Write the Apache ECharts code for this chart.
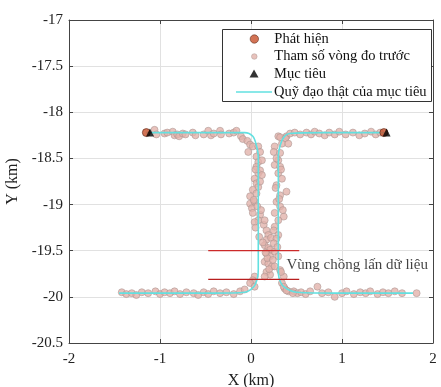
<!DOCTYPE html>
<html>
<head>
<meta charset="utf-8">
<script src="https://cdn.jsdelivr.net/npm/echarts@6/dist/echarts.min.js"></script>
<style>html,body{margin:0;padding:0;background:#fff;}#c{width:441px;height:387px;}</style>
</head>
<body>
<div id="c"></div>
<script>
// ---- Data (km) ----
const xTicks = [-2, -1, 0, 1, 2];
const yTicks = [-20.5, -20, -19.5, -19, -18.5, -18, -17.5, -17];

// True trajectory, target 1 (starts top-left)
const track1X = [-1.15, -0.40, -0.07, 0.02, 0.06, 0.08, 0.08, 0.08, 0.07, 0.03, -0.07, -0.40, -1.45];
const track1Y = [-18.22, -18.22, -18.22, -18.26, -18.36, -18.48, -19.10, -19.70, -19.80, -19.89, -19.95, -19.96, -19.96];
// True trajectory, target 2 (starts top-right)
const track2X = [1.47, 0.80, 0.42, 0.36, 0.32, 0.30, 0.30, 0.30, 0.31, 0.36, 0.50, 1.00, 1.78];
const track2Y = [-18.22, -18.22, -18.23, -18.27, -18.36, -18.48, -19.10, -19.70, -19.80, -19.89, -19.95, -19.96, -19.96];

// Detections (Phát hiện)
const detX = [-1.15, 1.46];
const detY = [-18.22, -18.22];

// Targets (Mục tiêu)
const tgtX = [-1.11, 1.49];
const tgtY = [-18.22, -18.22];

// Previous-scan measured parameters (Tham số vòng đo trước)
const measX = [
  -1.06, -1.04, -0.95, -0.92, -0.86, -0.84, -0.81, -0.79, -0.75, -0.72, -0.64, -0.61, -0.52, -0.47, -0.44, -0.41, -0.34, -0.33, -0.24, -0.19, -0.16, -0.11, -0.09, -0.04,
  -0.03, -0.01, 0.02, 0.08, 0.10, 0.06, 0.08, 0.12, 0.06, 0.08, 0.10, 0.12, 0.04, 0.06, 0.08, 0.02, 0.06, -0.01, -0.01, 0.04, 0.01, 0.02, 0.10, 0.08, 0.04, 0.14, 0.15, 0.17, 0.19, 0.17, 0.15, 0.19, 0.21, 0.17, 0.21, 0.15, 0.19, 0.23, 0.17, 0.21, 0.15, 0.04, 0.02, -0.01, 0.04,
  0.05, 0.10, 0.03, 0.07, 0.11, 0.05, 0.09, 0.13, 0.18, 0.20, 0.16, 0.22,
  0.30, 0.39, 0.34, 0.26, 0.25, 0.32, 0.30, 0.26, 0.32, 0.30, 0.34, 0.28, 0.39, 0.32, 0.28, 0.32, 0.26, 0.36, 0.30, 0.26, 0.25, 0.30, 0.28, 0.25, 0.26, 0.30, 0.26, 0.32, 0.36, 0.34, 0.37, 0.41, 0.47, 0.51,
  0.28, 0.33, 0.27, 0.31, 0.35, 0.29, 0.24, 0.33,
  0.32, 0.38, 0.41, 0.43, 0.48, 0.54, 0.61, 0.66, 0.70, 0.75, 0.81, 0.86, 0.92, 0.97, 1.04, 1.12, 1.19, 1.25, 1.32, 1.37, 1.42,
  -1.42, -1.37, -1.31, -1.26, -1.20, -1.13, -1.05, -1.00, -0.95, -0.89, -0.84, -0.78, -0.71, -0.63, -0.58, -0.52, -0.47, -0.41, -0.34, -0.27, -0.19, -0.12, -0.07,
  0.36, 0.39, 0.46, 0.55, 0.60, 0.65, 0.73, 0.78, 0.85, 0.92, 1.00, 1.05, 1.13, 1.20, 1.26, 1.31, 1.39, 1.45, 1.51, 1.58, 1.66, 1.82
];
const measY = [
  -18.19, -18.24, -18.23, -18.22, -18.21, -18.25, -18.24, -18.26, -18.23, -18.24, -18.22, -18.25, -18.24, -18.20, -18.25, -18.23, -18.20, -18.24, -18.23, -18.22, -18.20, -18.26, -18.29, -18.31,
  -18.43, -18.35, -18.37, -18.37, -18.43, -18.48, -18.54, -18.52, -18.59, -18.66, -18.63, -18.68, -18.72, -18.77, -18.81, -18.84, -18.88, -18.91, -18.99, -18.97, -19.04, -19.09, -19.11, -19.17, -19.19, -19.22, -19.17, -19.28, -19.33, -19.38, -19.44, -19.47, -19.49, -19.53, -19.56, -19.62, -19.64, -19.67, -19.73, -19.76, -19.78, -19.78, -19.82, -19.85, -19.89,
  -18.62, -18.75, -18.95, -19.02, -19.06, -19.25, -19.35, -19.41, -19.58, -19.70, -19.52, -19.36,
  -18.26, -18.26, -18.34, -18.37, -18.43, -18.44, -18.52, -18.57, -18.59, -18.66, -18.72, -18.79, -18.86, -18.90, -18.97, -19.02, -19.09, -19.13, -19.17, -19.24, -19.28, -19.33, -19.37, -19.42, -19.51, -19.56, -19.67, -19.71, -19.78, -19.85, -19.91, -19.94, -19.94, -19.96,
  -18.50, -18.62, -18.82, -18.94, -19.06, -19.46, -19.60, -19.73,
  -18.27, -18.28, -18.34, -18.23, -18.22, -18.24, -18.22, -18.24, -18.21, -18.23, -18.25, -18.22, -18.24, -18.21, -18.24, -18.22, -18.25, -18.23, -18.21, -18.24, -18.22,
  -19.95, -19.97, -19.96, -19.98, -19.95, -19.96, -19.94, -19.97, -19.95, -19.96, -19.94, -19.97, -19.95, -19.96, -19.98, -19.95, -19.97, -19.94, -19.96, -19.95, -19.97, -19.94, -19.92,
  -19.89, -19.93, -19.96, -19.95, -19.97, -19.94, -19.89, -19.96, -19.95, -20.00, -19.96, -19.94, -19.97, -19.95, -19.96, -19.94, -19.97, -19.95, -19.96, -19.94, -19.96, -19.96
];

// Overlap region boundaries
const overlapX = [-0.47, 0.53];
const overlapY1 = -19.50;
const overlapY2 = -19.81;
const overlapLabel = 'Vùng chồng lấn dữ liệu';
const overlapLabelPos = [0.39, -19.66];

const legendNames = ['Phát hiện', 'Tham số vòng đo trước', 'Mục tiêu', 'Quỹ đạo thật của mục tiêu'];

// ---- Build ----
const zip = (xs, ys) => xs.map((x, i) => [x, ys[i]]);
const FONT = 'Liberation Serif';
const chart = echarts.init(document.getElementById('c'), null, {renderer: 'canvas'});

const COL_MEAS = '#e2b3ab', COL_MEAS_EDGE = '#a8948f';
const COL_DET = '#c8502a', COL_DET_EDGE = '#5a2a1a';
const COL_TRACK = '#62e0e0';

// legend icons: 36x14 box, shape centred at (18,7); corner moves keep the box size
const BOX = 'M0 0 M36 14 ';
const circ = r => `M${18 - r} 7 A${r} ${r} 0 1 0 ${18 + r} 7 A${r} ${r} 0 1 0 ${18 - r} 7 Z`;
const icons = [
  'path://' + BOX + circ(4.2),
  'path://' + BOX + circ(2.8),
  'path://' + BOX + 'M18 2.5 L22.5 10.5 L13.5 10.5 Z',
  'path://' + BOX + 'M0 6.2 L36 6.2 L36 7.8 L0 7.8 Z'
];
const legendStyles = [
  {color: COL_DET, borderColor: COL_DET_EDGE, borderWidth: 0.7},
  {color: COL_MEAS, borderColor: COL_MEAS_EDGE, borderWidth: 0.6},
  {color: '#000', borderWidth: 0},
  {color: COL_TRACK, borderWidth: 0}
];
const rowCenters = [40, 57.5, 75, 93];
const legends = legendNames.map((n, i) => ({
  data: [{name: n, icon: icons[i]}],
  orient: 'vertical',
  left: 236,
  top: rowCenters[i] - 8.5,
  padding: 0,
  itemWidth: 36,
  itemHeight: 14,
  itemGap: 0,
  selectedMode: false,
  itemStyle: legendStyles[i],
  lineStyle: {width: 0},
  textStyle: {fontFamily: FONT, fontSize: 14.5, color: '#111', padding: [0, 0, 0, -3]},
  z: 10
}));

const axisCommon = {
  type: 'value',
  axisLine: {show: true, onZero: false, lineStyle: {color: '#444', width: 1}},
  axisTick: {show: true, inside: true, length: 4, lineStyle: {color: '#444'}},
  splitLine: {show: true, lineStyle: {color: '#e1e1e1', width: 1}},
};

const option = {
  animation: false,
  backgroundColor: '#fff',
  grid: {left: 69, right: 8, top: 20, bottom: 44, containLabel: false, outerBoundsMode: 'none'},
  xAxis: [
    Object.assign({}, axisCommon, {
      min: xTicks[0], max: xTicks[xTicks.length - 1], interval: 1,
      name: 'X (km)', nameLocation: 'middle', nameGap: 30,
      nameTextStyle: {fontFamily: FONT, fontSize: 16, color: '#222'},
      axisLabel: {fontFamily: FONT, fontSize: 15, color: '#222', margin: 9}
    }),
    Object.assign({}, axisCommon, {
      position: 'top', min: xTicks[0], max: xTicks[xTicks.length - 1], interval: 1,
      axisLabel: {show: false}, splitLine: {show: false}
    })
  ],
  yAxis: [
    Object.assign({}, axisCommon, {
      min: yTicks[0], max: yTicks[yTicks.length - 1], interval: 0.5,
      name: 'Y (km)', nameLocation: 'middle', nameGap: 42,
      nameTextStyle: {fontFamily: FONT, fontSize: 16, color: '#222'},
      axisLabel: {fontFamily: FONT, fontSize: 15, color: '#222', margin: 6}
    }),
    Object.assign({}, axisCommon, {
      position: 'right', min: yTicks[0], max: yTicks[yTicks.length - 1], interval: 0.5,
      axisLabel: {show: false}, splitLine: {show: false}
    })
  ],
  legend: legends,
  graphic: [{
    type: 'rect', left: 222, top: 29, z: 5,
    shape: {width: 209, height: 72},
    style: {fill: '#fff', stroke: '#333', lineWidth: 1}
  }],
  series: [
    {
      name: legendNames[1], type: 'scatter', data: zip(measX, measY),
      symbol: 'circle', symbolSize: 7,
      itemStyle: {color: COL_MEAS, borderColor: COL_MEAS_EDGE, borderWidth: 0.7},
      z: 2
    },
    {
      name: legendNames[3], type: 'line', data: zip(track1X, track1Y),
      showSymbol: false, symbol: 'none', smooth: 0.3,
      lineStyle: {color: COL_TRACK, width: 1.6}, itemStyle: {color: COL_TRACK},
      z: 3
    },
    {
      name: legendNames[3], type: 'line', data: zip(track2X, track2Y),
      showSymbol: false, symbol: 'none', smooth: 0.3,
      lineStyle: {color: COL_TRACK, width: 1.6}, itemStyle: {color: COL_TRACK},
      z: 3
    },
    {
      name: legendNames[0], type: 'scatter', data: zip(detX, detY),
      symbol: 'circle', symbolSize: 8,
      itemStyle: {color: COL_DET, borderColor: COL_DET_EDGE, borderWidth: 0.8},
      z: 4
    },
    {
      name: legendNames[2], type: 'scatter', data: zip(tgtX, tgtY),
      symbol: 'triangle', symbolSize: 8,
      itemStyle: {color: '#000'},
      z: 5
    },
    {
      name: 'overlap1', type: 'line', data: overlapX.map(x => [x, overlapY1]),
      showSymbol: false, symbol: 'none',
      lineStyle: {color: '#cc2a2a', width: 1.2}, z: 4
    },
    {
      name: 'overlap2', type: 'line', data: overlapX.map(x => [x, overlapY2]),
      showSymbol: false, symbol: 'none',
      lineStyle: {color: '#b81e1e', width: 1.2}, z: 4
    },
    {
      name: 'overlapLabel', type: 'scatter', data: [overlapLabelPos],
      symbolSize: 0, silent: true,
      label: {show: true, position: 'right', distance: 0, formatter: overlapLabel,
        fontFamily: FONT, fontSize: 15, color: '#111'},
      z: 6
    }
  ]
};
chart.setOption(option);
</script>
</body>
</html>
